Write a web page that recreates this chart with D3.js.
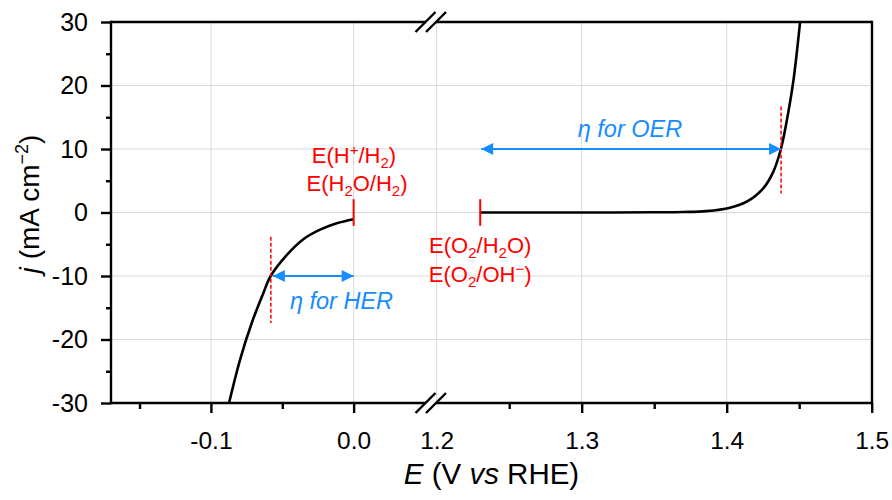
<!DOCTYPE html>
<html><head><meta charset="utf-8">
<script src="https://cdn.jsdelivr.net/npm/d3@7"></script>
<style>
html,body{margin:0;padding:0;background:#fff;}
svg{display:block;font-family:"Liberation Sans",Arial,sans-serif;}
</style></head>
<body><svg id="chart" width="892" height="500"></svg>
<script>
// ---- data ----
const yMajorTicks = [-30, -20, -10, 0, 10, 20, 30];
const yMinorTicks = [-25, -15, -5, 5, 15, 25];
const yGrid = [-20, -10, 0, 10, 20];
const xLeftMajor = [-0.1, 0.0];
const xLeftMinor = [-0.15, -0.05];
const xLeftLabels = ["-0.1", "0.0"];
const xRightMajor = [1.3, 1.4, 1.5];
const xRightMinor = [1.25, 1.35, 1.45];
const xRightLabelVals = [1.2, 1.3, 1.4, 1.5];
const xRightLabels = ["1.2", "1.3", "1.4", "1.5"];
const xLeftGrid = [-0.1, 0.0];
const xRightGrid = [1.2, 1.3, 1.4];

const herE = [-0.0873, -0.0796, -0.0714, -0.0633, -0.0581, -0.0469, -0.0352, -0.0235, -0.0118, 0.0];
const herJ = [-30, -23.2, -17.4, -12.7, -10, -6.7, -4.2, -2.7, -1.7, -1.07];
const oerE = [1.23, 1.28, 1.32, 1.35, 1.37, 1.386, 1.4023, 1.4138, 1.4252, 1.4321, 1.4372, 1.4413, 1.4459, 1.4506];
const oerJ = [0, 0, 0.01, 0.03, 0.08, 0.22, 0.76, 1.7, 3.8, 6.4, 9.84, 14.3, 20.6, 30];

const herEq = 0.0, herAt10 = -0.058;
const oerEq = 1.23, oerAt10 = 1.4375;
const jTarget = 10;

// ---- layout ----
const svg = d3.select("#chart");
const pTop = 22, pBottom = 403, pLeft = 111, pRight = 872;
const breakL = 425.5, breakR = 436;
const xL = d3.scaleLinear().domain([-0.17, 0.05]).range([pLeft, 425]);
const xR = d3.scaleLinear().domain([1.2, 1.5]).range([436.7, 871.7]);
const y = d3.scaleLinear().domain([-30, 30]).range([pBottom, pTop]);
const red = "#ff0000", blue = "#158cff", grid = "#d9d9d9";

// gridlines
const g = svg.append("g");
g.selectAll(".hg").data(yGrid).join("line")
  .attr("x1", pLeft).attr("x2", pRight).attr("y1", d => y(d)).attr("y2", d => y(d))
  .attr("stroke", grid).attr("stroke-width", 1);
g.selectAll(".vl").data(xLeftGrid).join("line")
  .attr("x1", d => xL(d)).attr("x2", d => xL(d)).attr("y1", pTop).attr("y2", pBottom)
  .attr("stroke", grid).attr("stroke-width", 1);
g.selectAll(".vr").data(xRightGrid).join("line")
  .attr("x1", d => xR(d)).attr("x2", d => xR(d)).attr("y1", pTop).attr("y2", pBottom)
  .attr("stroke", grid).attr("stroke-width", 1);

// clip
svg.append("clipPath").attr("id", "clip").append("rect")
  .attr("x", pLeft).attr("y", pTop).attr("width", pRight - pLeft).attr("height", pBottom - pTop);

// curves
const line = d3.line().curve(d3.curveCatmullRom.alpha(0.5));
svg.append("path").attr("clip-path", "url(#clip)")
  .attr("d", line(herE.map((e, i) => [xL(e), y(herJ[i])])))
  .attr("fill", "none").attr("stroke", "#000").attr("stroke-width", 2.6);
svg.append("path").attr("clip-path", "url(#clip)")
  .attr("d", line(oerE.map((e, i) => [xR(e), y(oerJ[i])])))
  .attr("fill", "none").attr("stroke", "#000").attr("stroke-width", 2.6);

// frame
const ax = svg.append("g").attr("stroke", "#000").attr("stroke-width", 2.4).attr("fill", "none");
ax.append("line").attr("x1", pLeft).attr("x2", pLeft).attr("y1", pTop - 1.2).attr("y2", pBottom + 1.2);
ax.append("line").attr("x1", pRight).attr("x2", pRight).attr("y1", pTop - 1.2).attr("y2", pBottom + 1.2);
[pTop, pBottom].forEach(yy => {
  ax.append("line").attr("x1", pLeft).attr("x2", breakL).attr("y1", yy).attr("y2", yy);
  ax.append("line").attr("x1", breakR).attr("x2", pRight).attr("y1", yy).attr("y2", yy);
  [breakL, breakR].forEach(cx => {
    ax.append("line").attr("x1", cx - 10).attr("y1", yy + 10).attr("x2", cx + 10).attr("y2", yy - 10);
  });
});

// axes
function styleAxis(fs) {
  return sel => {
    sel.select(".domain").remove();
    sel.selectAll(".tick line").attr("stroke", "#000").attr("stroke-width", 2.4);
    sel.selectAll(".tick text").attr("fill", "#000").attr("font-size", fs)
      .attr("font-family", "Liberation Sans, Arial, sans-serif");
  };
}
const yAxisMajor = d3.axisLeft(y).tickValues(yMajorTicks).tickSize(10).tickFormat(d => String(d)).tickPadding(13);
const yAxisMinor = d3.axisLeft(y).tickValues(yMinorTicks).tickSize(5).tickFormat("");
svg.append("g").attr("transform", `translate(${pLeft},0)`).call(yAxisMajor).call(styleAxis(25));
svg.append("g").attr("transform", `translate(${pLeft},0)`).call(yAxisMinor).call(styleAxis(25));

const xAxL = d3.axisBottom(xL).tickValues(xLeftMajor).tickSize(10).tickFormat((d, i) => xLeftLabels[i]).tickPadding(19);
const xAxLm = d3.axisBottom(xL).tickValues(xLeftMinor).tickSize(6).tickFormat("");
const xAxR = d3.axisBottom(xR).tickValues(xRightMajor).tickSize(10).tickFormat("");
const xAxRm = d3.axisBottom(xR).tickValues(xRightMinor).tickSize(6).tickFormat("");
const xAxRlab = d3.axisBottom(xR).tickValues(xRightLabelVals).tickSize(0).tickFormat((d, i) => xRightLabels[i]).tickPadding(29);
[xAxL, xAxLm, xAxR, xAxRm, xAxRlab].forEach(a => {
  svg.append("g").attr("transform", `translate(0,${pBottom})`).call(a).call(styleAxis(24.5));
});

// axis titles
const xt = svg.append("text").attr("x", (pLeft + pRight) / 2).attr("y", 484)
  .attr("text-anchor", "middle").attr("font-size", 29.5).attr("fill", "#000");
xt.append("tspan").attr("font-style", "italic").text("E");
xt.append("tspan").text(" (V ");
xt.append("tspan").attr("font-style", "italic").text("vs");
xt.append("tspan").text(" RHE)");

const yt = svg.append("text").attr("transform", "translate(39,204) rotate(-90)")
  .attr("text-anchor", "middle").attr("font-size", 28).attr("fill", "#000");
yt.append("tspan").attr("font-style", "italic").text("j");
yt.append("tspan").text(" (mA cm");
yt.append("tspan").attr("font-size", 18).attr("dy", -11).text("\u22122");
yt.append("tspan").attr("dy", 11).text(")");

// annotations
const ann = svg.append("g");
ann.append("line").attr("x1", xL(herEq)).attr("x2", xL(herEq)).attr("y1", y(2.1)).attr("y2", y(-2.1))
  .attr("stroke", red).attr("stroke-width", 2);
ann.append("line").attr("x1", xR(oerEq)).attr("x2", xR(oerEq)).attr("y1", y(2.1)).attr("y2", y(-2.1))
  .attr("stroke", red).attr("stroke-width", 2);
ann.append("line").attr("x1", xL(herAt10)).attr("x2", xL(herAt10)).attr("y1", y(-3.8)).attr("y2", y(-17.4))
  .attr("stroke", red).attr("stroke-width", 1.5).attr("stroke-dasharray", "4,2");
ann.append("line").attr("x1", xR(oerAt10)).attr("x2", xR(oerAt10)).attr("y1", y(16.7)).attr("y2", y(3))
  .attr("stroke", red).attr("stroke-width", 1.5).attr("stroke-dasharray", "4,2");

const defs = svg.append("defs");
defs.append("marker").attr("id", "ah").attr("viewBox", "0 0 10 10").attr("refX", 10).attr("refY", 5)
  .attr("markerWidth", 13).attr("markerHeight", 12).attr("markerUnits", "userSpaceOnUse")
  .attr("orient", "auto-start-reverse")
  .append("path").attr("d", "M0,0 L10,5 L0,10 Z").attr("fill", blue);
function dblArrow(x1, x2, yy) {
  ann.append("line").attr("x1", x1).attr("x2", x2).attr("y1", yy).attr("y2", yy)
    .attr("stroke", blue).attr("stroke-width", 2)
    .attr("marker-start", "url(#ah)").attr("marker-end", "url(#ah)");
}
dblArrow(xL(herAt10) + 2, xL(herEq), y(-jTarget));
dblArrow(xR(oerEq) + 1, xR(oerAt10), y(jTarget));

function etaLabel(x, yy, rest) {
  ann.append("text").attr("x", x).attr("y", yy).attr("text-anchor", "middle")
    .attr("font-size", 23.5).attr("font-style", "italic").attr("fill", blue)
    .text("\u03b7 for " + rest);
}
etaLabel(341.5, 309, "HER");
etaLabel(630, 137, "OER");

// rich red labels: segments; objects mark subscripts or superscripts
function rich(x, yy, segs) {
  const t = ann.append("text").attr("x", x).attr("y", yy).attr("text-anchor", "middle")
    .attr("font-size", 22).attr("fill", red);
  let cur = 0;
  segs.forEach(s => {
    const txt = typeof s === "string" ? s : (s.sub || s.sup);
    const target = typeof s === "string" ? 0 : (s.sub ? 5 : -8);
    const ts = t.append("tspan").attr("dy", target - cur).text(txt);
    if (typeof s !== "string") ts.attr("font-size", 15);
    cur = target;
  });
}
rich(354, 163, ["E(H", {sup: "+"}, "/H", {sub: "2"}, ")"]);
rich(357, 191, ["E(H", {sub: "2"}, "O/H", {sub: "2"}, ")"]);
rich(xR(oerEq), 253, ["E(O", {sub: "2"}, "/H", {sub: "2"}, "O)"]);
rich(xR(oerEq), 281.5, ["E(O", {sub: "2"}, "/OH", {sup: "\u2212"}, ")"]);
</script></body></html>
